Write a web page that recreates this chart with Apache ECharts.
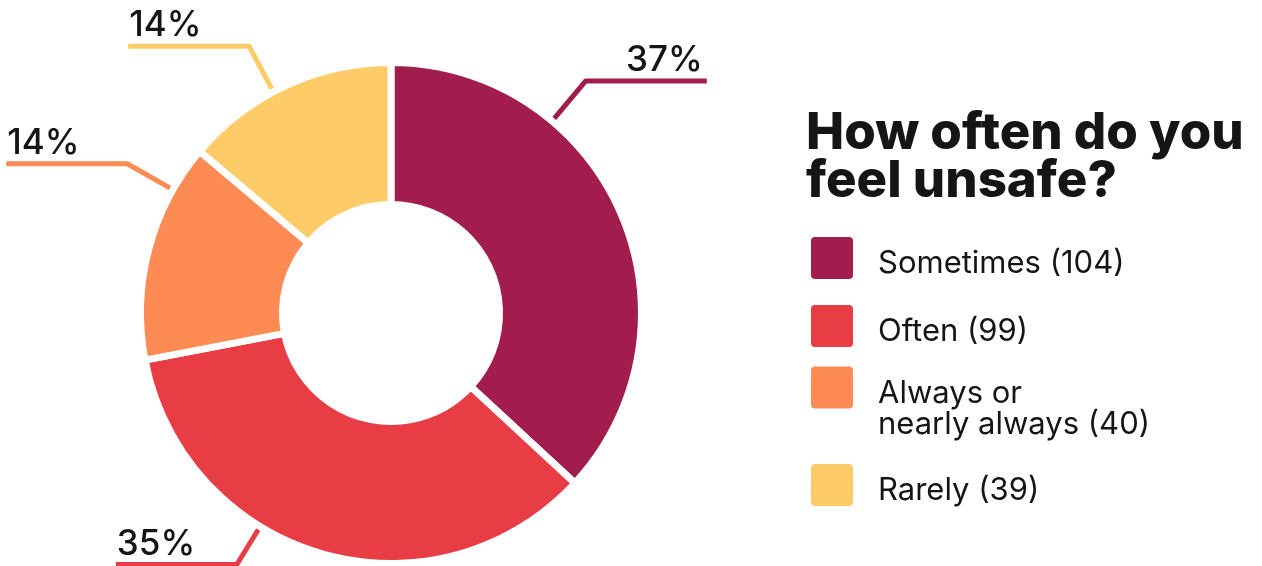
<!DOCTYPE html>
<html>
<head>
<meta charset="utf-8">
<title>How often do you feel unsafe?</title>
<script src="https://cdn.jsdelivr.net/npm/echarts@6/dist/echarts.min.js"></script>
<style>
  html, body { margin: 0; padding: 0; background: #fff; }
  #chart { width: 1262px; height: 566px; }
</style>
</head>
<body>
<div id="chart"></div>
<script>
  // data
  var categories = ['Sometimes', 'Often', 'Always or\nnearly always', 'Rarely'];
  var counts = [104, 99, 40, 39];
  var colors = ['#A21C4E', '#E83D44', '#FE8A54', '#FECB69'];

  // layout of the donut and its leader lines (pixels / degrees)
  var CX = 391, CY = 313, R_IN = 112, R_OUT = 247, GAP = 7;
  var lineAngles = [40, 211.5, 299.5, 332];
  var lineLen1 = [56, 48, 56, 55];
  var LEN2 = 121;
  var FONT = 'Inter, "Noto Sans", sans-serif';
  var INK = '#151515';
  var ROUND_SQ = 'path://M5,0H39A5,5,0,0,1,44,5V39A5,5,0,0,1,39,44H5A5,5,0,0,1,0,39V5A5,5,0,0,1,5,0Z';

  var chart = echarts.init(document.getElementById('chart'), null, { renderer: 'canvas' });

  var pieData = categories.map(function (name, i) {
    return { name: name, value: counts[i], itemStyle: { color: colors[i] },
      labelLine: { lineStyle: { color: colors[i] } } };
  });

  // an invisible spacer line above the text pushes it down next to the swatch
  function makeLegend(names, top, spacer) {
    return {
      orient: 'vertical',
      left: 809,
      top: top,
      padding: 0,
      itemGap: 22,
      itemWidth: 44,
      itemHeight: 44,
      icon: ROUND_SQ,
      selectedMode: false,
      data: names,
      formatter: function (name) {
        var i = categories.indexOf(name);
        var lines = (name + ' (' + counts[i] + ')').split('\n');
        return '{s| }\n' + lines.map(function (l) { return '{t|' + l + '}'; }).join('\n');
      },
      textStyle: {
        padding: [0, 0, 0, 19],
        rich: {
          s: { fontSize: 1, lineHeight: spacer },
          t: { fontFamily: FONT, fontSize: 31, lineHeight: 31, color: INK }
        }
      }
    };
  }

  var option = {
    animation: false,
    backgroundColor: '#fff',
    color: colors,
    title: {
      text: 'How often do you\nfeel unsafe?',
      left: 806,
      top: 110,
      padding: 0,
      textStyle: {
        fontFamily: FONT, fontSize: 51, fontWeight: 800,
        lineHeight: 48, color: INK
      }
    },
    legend: [
      makeLegend([categories[0], categories[1]], 235, 12),
      makeLegend([categories[2]], 356, 43),
      makeLegend([categories[3]], 462, 12)
    ],
    series: [{
      type: 'pie',
      center: [CX, CY],
      radius: [R_IN - GAP / 2, R_OUT + GAP / 2],
      startAngle: 90,
      clockwise: true,
      percentPrecision: 0,
      avoidLabelOverlap: false,
      emphasis: { disabled: true },
      itemStyle: { borderColor: '#fff', borderWidth: GAP },
      label: {
        show: true,
        position: 'outside',
        formatter: '{d}%',
        fontFamily: FONT,
        fontSize: 35,
        fontWeight: 500,
        color: INK
      },
      labelLine: {
        show: true,
        smooth: false,
        length: 56,
        length2: LEN2,
        lineStyle: { width: 5, join: 'round', cap: 'butt' }
      },
      labelLayout: function (params) {
        var i = params.dataIndex;
        var a = lineAngles[i] * Math.PI / 180;
        var r1 = R_OUT + lineLen1[i];
        var sx = CX + (R_OUT - 3) * Math.sin(a), sy = CY - (R_OUT - 3) * Math.cos(a);
        var ex = CX + r1 * Math.sin(a), ey = CY - r1 * Math.cos(a);
        var right = Math.sin(a) > 0;
        var tx = ex + (right ? LEN2 : -LEN2);
        return {
          x: right ? tx - 4 : tx + 1,
          y: ey - 3,
          align: right ? 'right' : 'left',
          verticalAlign: 'bottom',
          labelLinePoints: [[sx, sy], [ex, ey], [tx, ey]]
        };
      },
      data: pieData
    }]
  };

  chart.setOption(option);
</script>
</body>
</html>
